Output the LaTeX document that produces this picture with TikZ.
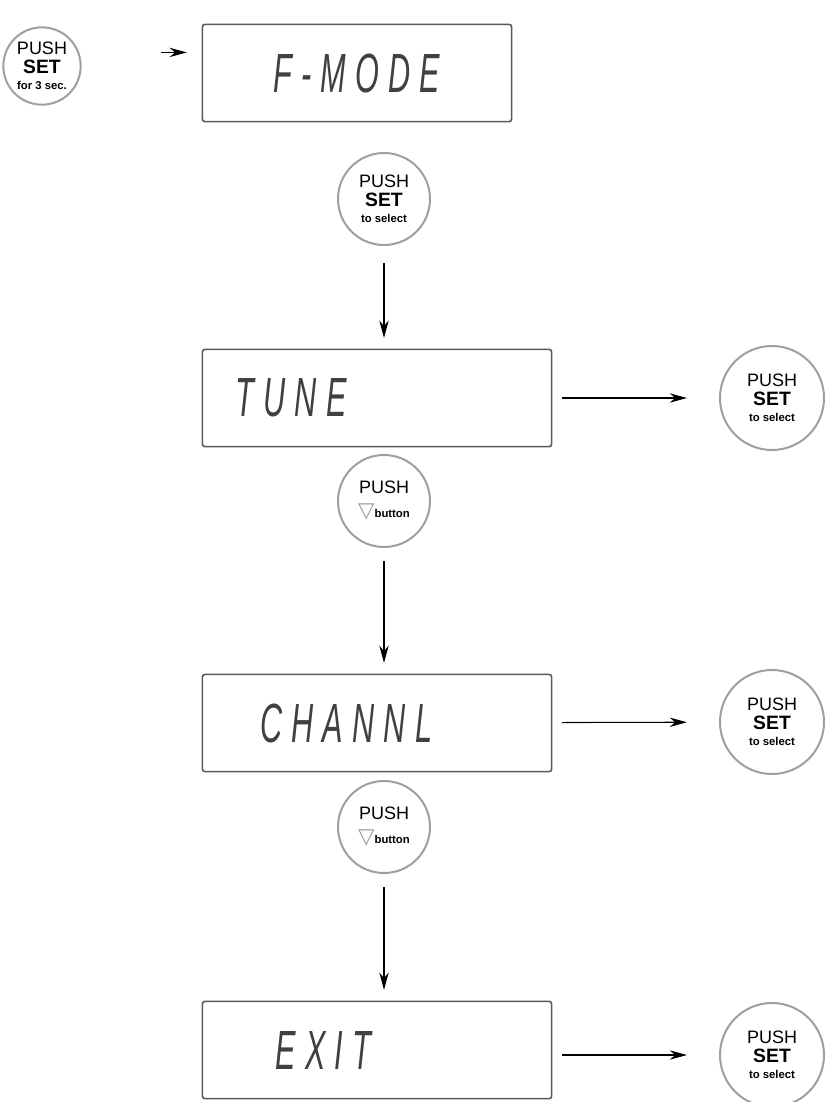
\documentclass[tikz,border=0pt]{standalone}
\usepackage{fontspec}
\setmainfont{Liberation Sans}
\newfontfamily\symfont{DejaVu Sans}
\newfontfamily\lcdfont[LetterSpace=30]{Liberation Sans}
\usetikzlibrary{arrows.meta}

\newcommand{\lcd}[1]{\scalebox{1}[1.8]{\lcdfont\itshape\fontsize{23}{23}\selectfont\color{black!75}#1}}
\newcommand{\pushset}[1]{{\fontsize{13.5}{14}\selectfont PUSH}\\[2pt]{\fontsize{14.5}{15}\selectfont\bfseries SET}\\[0pt]{\fontsize{8.5}{9}\selectfont\bfseries #1}}
\newcommand{\pushdown}{{\fontsize{13.5}{14}\selectfont PUSH}\\[6pt]{\symfont\fontsize{16}{16}\selectfont\color{gray!80}▽}{\fontsize{8.5}{9}\selectfont\bfseries button}}

\begin{document}
\begin{tikzpicture}[x=0.75pt,y=-0.75pt,
  every node/.style={inner sep=0pt},
  btn/.style={circle,draw=gray!75,line width=1.5pt,align=center,minimum size=69pt},
  lcdbox/.style={draw=gray!70!black,line width=1.2pt,rounded corners=2pt,minimum height=73pt,minimum width=232pt},
  arr/.style={-{Stealth[length=13pt,width=7pt]},line width=0.8pt}]
\useasboundingbox (0,0) rectangle (830,1102);

\node[btn,minimum size=58pt] (hold) at (42,66) {\pushset{for 3 sec.}};
\node[lcdbox] (fmode) at (357,73) {\lcd{F-MODE}};
\node[btn] (set1) at (384,199) {\pushset{to select}};

\node[lcdbox,text width=212pt,align=left,inner xsep=25pt] (tune) at (377,398) {\lcd{TUNE}};
\node[btn,minimum size=78pt] (sel1) at (772,398) {\pushset{to select}};
\node[btn] (down1) at (384,501) {\pushdown};

\node[lcdbox,text width=175pt,align=left,inner xsep=43.5pt] (channl) at (377,723) {\lcd{CHANNL}};
\node[btn,minimum size=78pt] (sel2) at (772,722) {\pushset{to select}};
\node[btn] (down2) at (384,827) {\pushdown};

\node[lcdbox,text width=152pt,align=left,inner xsep=55pt] (exit) at (377,1050) {\lcd{EXIT}};
\node[btn,minimum size=78pt] (sel3) at (772,1055) {\pushset{to select}};

\draw[arr,shorten <=61pt,shorten >=11pt] (hold.20) -- (hold.20 -| fmode.west);
\draw[arr,shorten <=13pt,shorten >=8pt] (set1) -- (set1 |- tune.north);
\draw[arr,shorten <=10pt,shorten >=8pt] (down1) -- (down1 |- channl.north);
\draw[arr,shorten <=10pt,shorten >=8pt] (down2) -- (down2 |- exit.north);
\draw[arr,shorten <=7pt,shorten >=24pt] (tune) -- (sel1);
\draw[arr,shorten <=7pt,shorten >=24pt] (channl) -- (sel2);
\draw[arr,shorten <=7pt,shorten >=24pt] (exit.east |- sel3) -- (sel3);
\end{tikzpicture}
\end{document}
